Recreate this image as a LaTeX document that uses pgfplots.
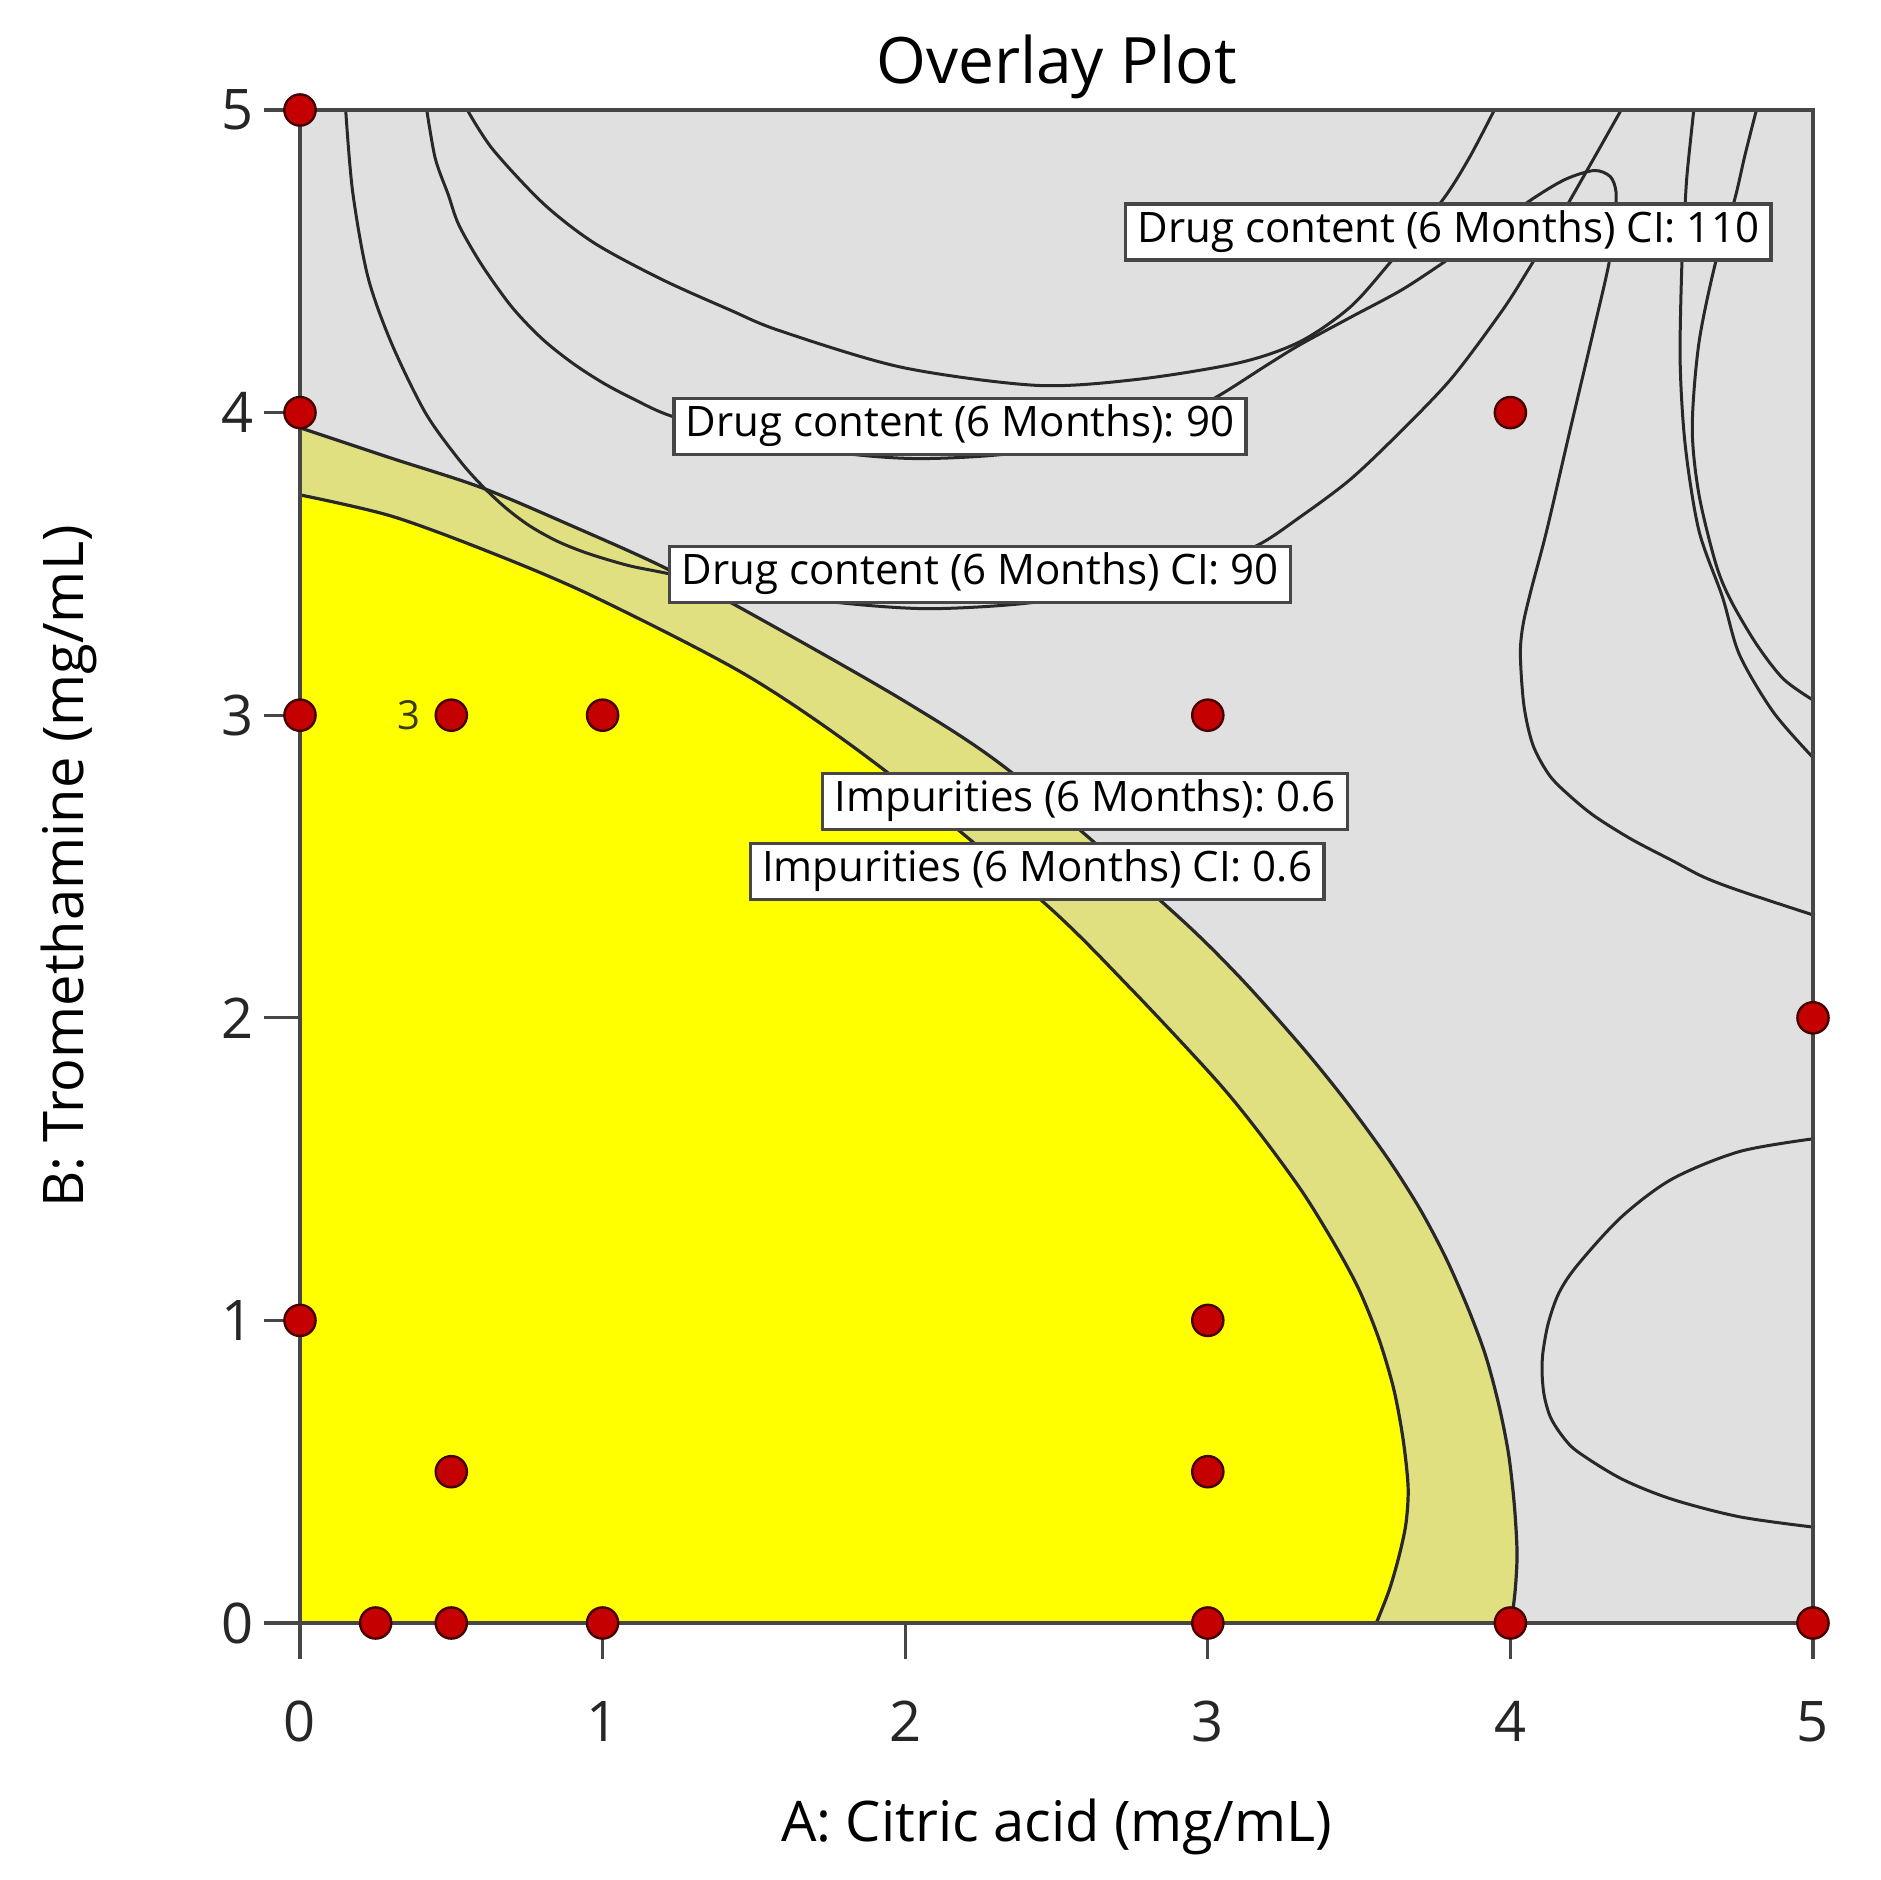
\documentclass[border=0pt]{standalone}
\usepackage{pgfplots}
\pgfplotsset{compat=1.18}
\usepackage{pgfplotstable}
\usepackage{fontspec}
\setmainfont{Open Sans}
\frenchspacing

\definecolor{bggray}{RGB}{224,224,224}
\definecolor{khaki}{RGB}{224,224,128}
\definecolor{yel}{RGB}{255,255,0}
\definecolor{linegray}{RGB}{40,40,40}
\definecolor{framegray}{RGB}{70,70,70}
\definecolor{dotred}{RGB}{196,0,0}
\definecolor{dotedge}{RGB}{70,0,0}

% Impurities CI 0.6 (inner yellow boundary)
\pgfplotstableread{
x y
0 3.728
0.302 3.658
0.637 3.535
0.973 3.391
1.484 3.127
1.920 2.827
2.457 2.382
2.742 2.100
3.026 1.796
3.170 1.620
3.311 1.427
3.420 1.250
3.500 1.101
3.565 0.940
3.614 0.775
3.645 0.610
3.662 0.449
3.655 0.330
3.633 0.225
3.600 0.110
3.557 0
}\inner
% Impurities 0.6 (outer khaki boundary)
\pgfplotstableread{
x y
0 3.950
0.300 3.850
0.600 3.752
0.900 3.625
1.200 3.490
1.500 3.330
2.000 3.045
2.350 2.812
2.874 2.360
3.100 2.140
3.311 1.904
3.460 1.720
3.595 1.535
3.700 1.370
3.785 1.210
3.860 1.040
3.918 0.884
3.962 0.720
3.994 0.558
4.013 0.390
4.022 0.232
4.016 0.110
4.003 0
}\outer
% Drug content CI 90
\pgfplotstableread{
x y
0.151 5.0
0.174 4.73
0.224 4.45
0.302 4.23
0.414 4.00
0.525 3.845
0.600 3.760
0.680 3.685
0.760 3.625
0.850 3.575
0.950 3.535
1.084 3.495
1.207 3.470
1.500 3.410
1.800 3.370
2.080 3.352
2.400 3.370
2.700 3.420
2.950 3.480
3.161 3.560
3.305 3.655
3.472 3.780
3.640 3.940
3.807 4.115
3.975 4.340
4.070 4.490
4.170 4.655
4.270 4.830
4.366 5.0
}\dcia
% Drug content 90
\pgfplotstableread{
x y
0.419 5.0
0.447 4.84
0.490 4.72
0.525 4.62
0.600 4.489
0.700 4.349
0.800 4.244
0.900 4.164
1.000 4.099
1.100 4.046
1.229 3.988
1.500 3.915
1.800 3.865
2.050 3.848
2.350 3.865
2.650 3.925
2.900 3.995
3.026 4.050
3.200 4.160
3.306 4.225
3.472 4.315
3.640 4.405
3.785 4.500
3.930 4.600
4.064 4.700
4.180 4.770
4.277 4.800
4.330 4.780
4.349 4.730
4.345 4.650
4.327 4.500
4.277 4.280
4.199 3.950
4.120 3.610
4.070 3.420
4.042 3.300
4.033 3.200
4.045 3.030
4.075 2.900
4.130 2.800
4.200 2.730
4.280 2.665
4.400 2.590
4.534 2.520
4.639 2.465
4.757 2.420
5.0 2.340
}\dcb
% Drug content contour C
\pgfplotstableread{
x y
0.553 5.0
0.637 4.87
0.805 4.69
0.973 4.56
1.196 4.44
1.419 4.34
1.587 4.27
1.987 4.15
2.434 4.09
2.769 4.11
3.105 4.165
3.306 4.235
3.472 4.35
3.606 4.50
3.774 4.70
3.863 4.84
3.947 5.0
}\dcc
% right contour D
\pgfplotstableread{
x y
4.606 5.0
4.585 4.80
4.578 4.70
4.567 4.50
4.561 4.17
4.578 3.89
4.623 3.61
4.701 3.39
4.757 3.20
4.869 3.01
5.0 2.86
}\dcd
% right contour E
\pgfplotstableread{
x y
4.813 5.0
4.775 4.85
4.740 4.70
4.679 4.50
4.623 4.23
4.601 3.95
4.623 3.73
4.679 3.50
4.728 3.38
4.813 3.235
4.902 3.12
5.0 3.05
}\dce
% lower right contour F
\pgfplotstableread{
x y
5.0 1.600
4.757 1.558
4.534 1.467
4.366 1.341
4.221 1.182
4.160 1.090
4.125 0.990
4.107 0.890
4.105 0.820
4.112 0.750
4.132 0.681
4.170 0.620
4.221 0.567
4.366 0.477
4.534 0.409
4.757 0.351
5.0 0.317
}\dcf

\begin{document}
\begin{tikzpicture}
\begin{axis}[
  scale only axis, width=378.25pt, height=378.25pt,
  xmin=0, xmax=5, ymin=0, ymax=5,
  axis background/.style={fill=bggray},
  clip=false,
  tick pos=left, tick align=outside, major tick length=9pt,
  xtick={0,1,2,3,4,5}, ytick={0,1,2,3,4,5},
  tick style={draw=framegray, line width=0.8pt},
  axis line style={draw=framegray, line width=1pt},
  /pgf/number format/assume math mode=true,
  ticklabel style={font=\fontsize{14}{14}\selectfont, text=black!85},
  xticklabel style={anchor=base, yshift=-20.5pt},
  yticklabel style={anchor=east, xshift=1pt},
  title={Overlay Plot},
  title style={at={(axis description cs:0.5,1.0016)}, anchor=base, font=\fontsize{16}{16}\selectfont},
  xlabel={A: Citric acid (mg/mL)},
  xlabel style={at={(axis description cs:0.5,-0.1441)}, anchor=base, font=\fontsize{14}{14}\selectfont},
  ylabel={B: Tromethamine (mg/mL)},
  ylabel style={at={(axis description cs:-0.1428,0.5)}, anchor=base, font=\fontsize{14}{14}\selectfont},
]
\coordinate (O) at (rel axis cs:0,0);
% regions
\addplot[fill=khaki, draw=none, smooth] table {\outer} \closedcycle;
\addplot[fill=yel, draw=none, smooth] table {\inner} \closedcycle;
% contour lines
\addplot[linegray, line width=0.8pt, smooth] table {\outer};
\addplot[linegray, line width=0.8pt, smooth] table {\inner};
\addplot[linegray, line width=0.75pt, smooth] table {\dcia};
\addplot[linegray, line width=0.75pt, smooth] table {\dcb};
\addplot[linegray, line width=0.75pt, smooth] table {\dcc};
\addplot[linegray, line width=0.75pt, smooth] table {\dcd};
\addplot[linegray, line width=0.75pt, smooth] table {\dce};
\addplot[linegray, line width=0.75pt, smooth] table {\dcf};
% frame
\draw[framegray, line width=1pt] (rel axis cs:0,0) rectangle (rel axis cs:1,1);
% labels
\tikzset{lbl/.style={draw=framegray, fill=white, line width=0.8pt, inner xsep=3pt, inner ysep=2pt,
  text height=0.76em, text depth=0.24em, font=\fontsize{10.5}{10.5}\selectfont}}
\node[lbl] at (axis cs:3.795,4.597) {Drug content (6 Months) CI: 110};
\node[lbl] at (axis cs:2.181,3.955) {Drug content (6 Months): 90};
\node[lbl] at (axis cs:2.248,3.465) {Drug content (6 Months) CI: 90};
\node[lbl] at (axis cs:2.594,2.716) {Impurities (6 Months): 0.6};
\node[lbl] at (axis cs:2.436,2.484) {Impurities (6 Months) CI: 0.6};
% design points
\addplot[only marks, mark=*, mark size=3.9pt, mark options={fill=dotred, draw=dotedge, line width=0.6pt}] coordinates {
(0,5) (0,4) (0,3) (0.5,3) (1,3) (3,3) (4,4) (5,2) (0,1) (3,1)
(0.5,0.5) (3,0.5) (0.25,0) (0.5,0) (1,0) (3,0) (4,0) (5,0)};
\node[font=\fontsize{10}{10}\selectfont, text={rgb,255:red,60;green,60;blue,0}] at (axis cs:0.36,3) {3};
\end{axis}
\pgfresetboundingbox
\path[use as bounding box] ([shift={(-75pt,-64.25pt)}]O) rectangle ([shift={(395pt,405.75pt)}]O);
\end{tikzpicture}
\end{document}
